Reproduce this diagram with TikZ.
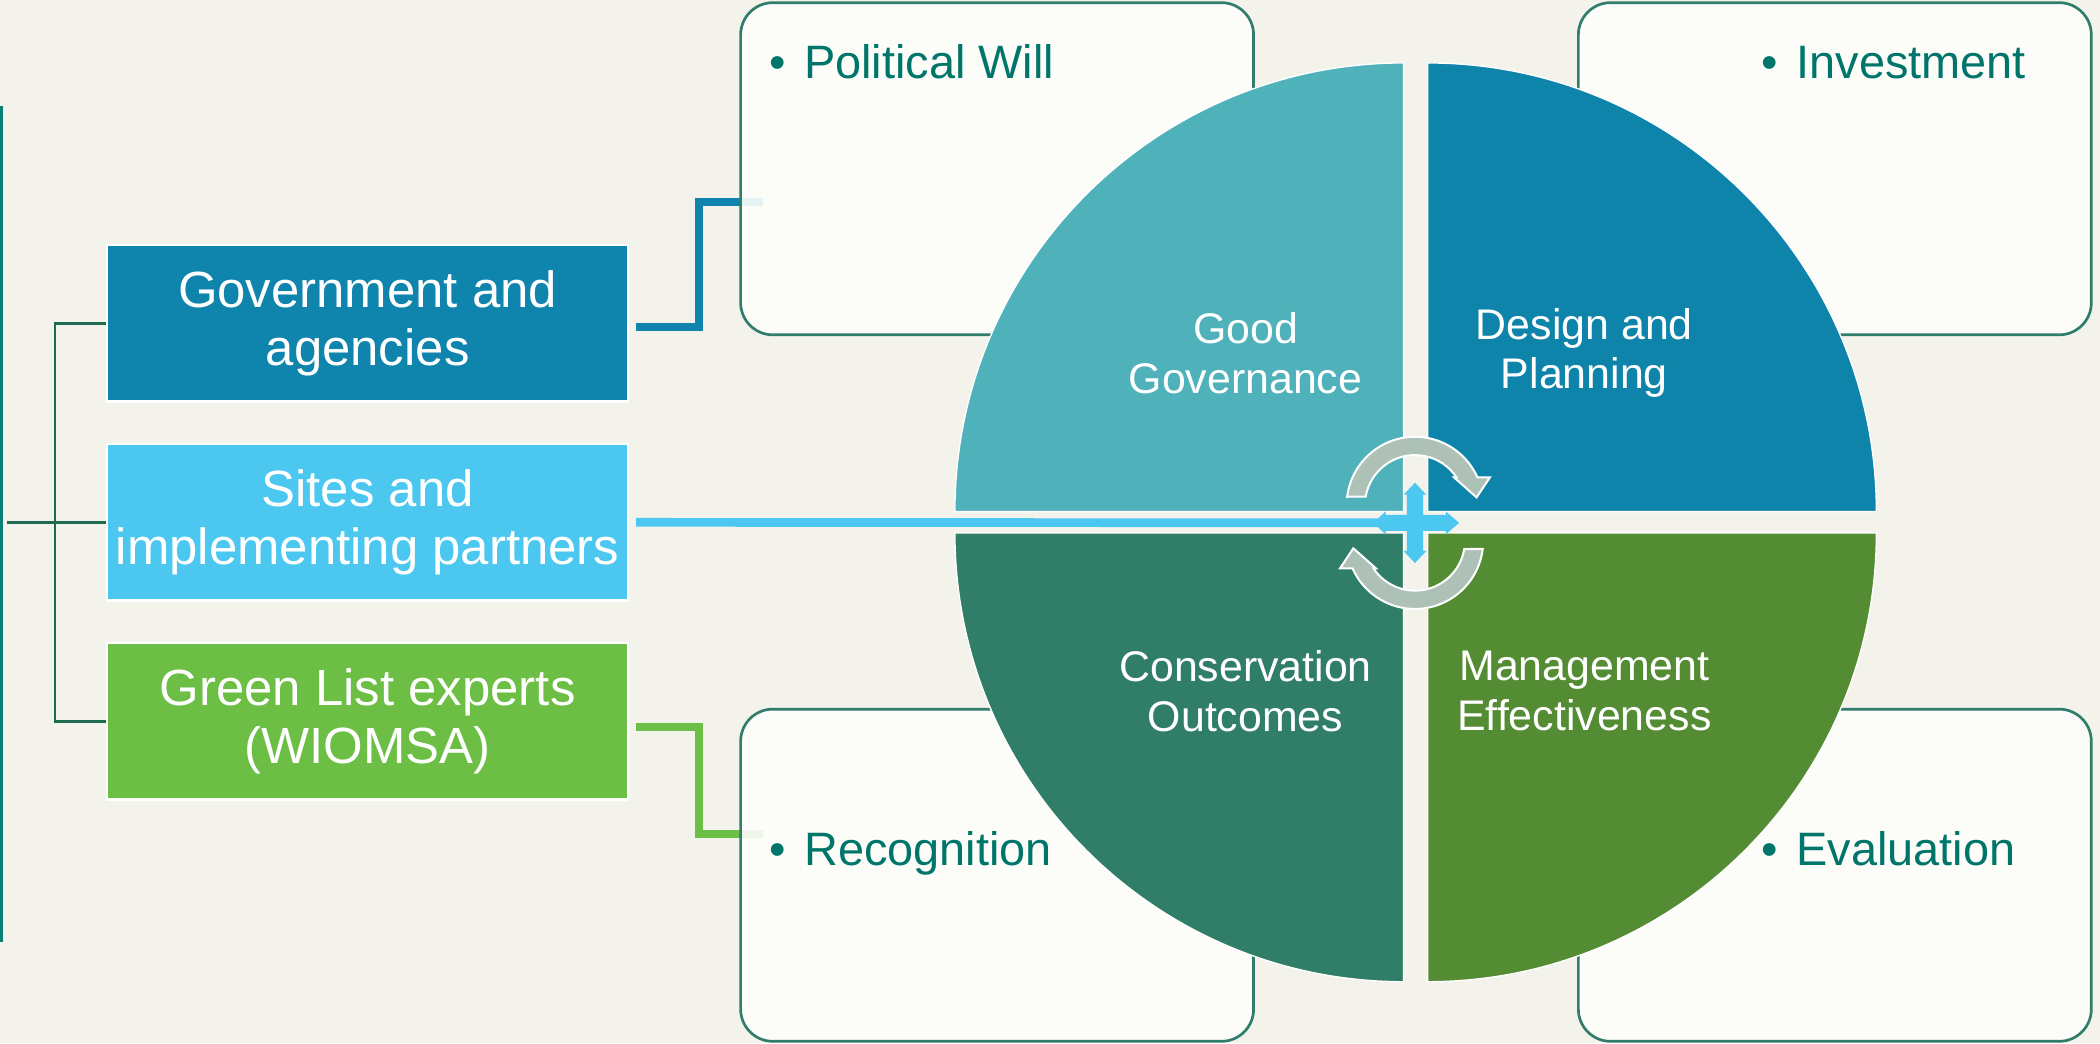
\documentclass[tikz,border=0pt]{standalone}
\usepackage{fontspec}
\setmainfont{Liberation Sans}
\definecolor{bgcream}{HTML}{F3F3EB}
\definecolor{tealline}{HTML}{0A8074}
\definecolor{bracket}{HTML}{1F6B52}
\definecolor{govblue}{HTML}{0F84AC}
\definecolor{siteblue}{HTML}{4CC8F0}
\definecolor{glgreen}{HTML}{6DBE45}
\definecolor{rborder}{HTML}{2F7D6A}
\definecolor{boxwhite}{HTML}{FDFDFB}
\definecolor{bultext}{HTML}{00756A}
\definecolor{qone}{HTML}{4FB1BA}
\definecolor{qtwo}{HTML}{0F84AA}
\definecolor{qthree}{HTML}{317E68}
\definecolor{qfour}{HTML}{548C33}
\definecolor{arrowgray}{HTML}{AEC1B7}
\begin{document}
\begin{tikzpicture}[x=1pt,y=-1pt,
  cbox/.style={draw=white, line width=2pt, minimum width=389pt, minimum height=117pt, text=white, align=center, font=\fontsize{38}{43}\selectfont, inner sep=0pt},
  rbox/.style={draw=rborder, line width=2pt, fill=boxwhite, fill opacity=0.9, rounded corners=24pt, minimum width=383pt, minimum height=248pt},
  bul/.style={text=bultext, font=\fontsize{35}{40}\selectfont, anchor=base west, inner sep=0pt},
  qtext/.style={text=white, align=center, font=\fontsize{32}{37}\selectfont, inner sep=0pt},
  conn/.style={line width=6pt},
  brk/.style={draw=bracket, line width=2pt},
  carrow/.style={fill=arrowgray, draw=white, line width=1.5pt},
  quad/.style={draw=white, line width=1pt},
]
\fill[bgcream] (0,0) rectangle (1568,779);
\useasboundingbox (0,0) rectangle (1568,779);

% left vertical line
\coordinate (lt) at (1,79);
\coordinate (lb) at (1,703);
\draw[tealline, line width=2pt] (lt) -- (lb);

% coloured boxes
\node[cbox, fill=govblue] (gov) at (274.5,241.5) {Government and\\agencies};
\node[cbox, fill=siteblue] (sites) at (274.5,390) {Sites and\\implementing partners};
\node[cbox, fill=glgreen] (gle) at (274.5,538.5) {Green List experts\\(WIOMSA)};

% bracket
\coordinate (brkstart) at (5,390);
\draw[brk] (gov.west) -- (41,241.5) -- (41,538.5) -- (gle.west);
\draw[brk] (brkstart) -- (sites.west);

% connectors
\coordinate (govend) at (570,151);
\coordinate (gleend) at (570,622.5);
\coordinate (hub) at (1056.5,390.4);
\draw[conn, govblue] (gov.east) ++(5,2.5) -- (522,244) |- (govend);
\draw[conn, glgreen] (gle.east) ++(5,4) -- (522,542.5) |- (gleend);

% rounded boxes
\node[rbox] (pwbox) at (744.5,126) {};
\node[rbox] (invbox) at (1370,126) {};
\node[rbox] (recbox) at (744.5,653.5) {};
\node[rbox] (evabox) at (1370,653.5) {};

\node[bul] (pw) at (574,58.5) {•\hspace{14pt}Political Will};
\node[bul] (inv) at (1315,58.5) {•\hspace{14pt}Investment};
\node[bul] (rec) at (574,646) {•\hspace{14pt}Recognition};
\node[bul] (eva) at (1315,646) {•\hspace{14pt}Evaluation};

% quadrants
\fill[qone, quad] (1048,382) -- (713,382) arc[start angle=180,end angle=270,radius=335] -- cycle;
\fill[qtwo, quad] (1066,382) -- (1066,47) arc[start angle=270,end angle=360,radius=335] -- cycle;
\fill[qfour, quad] (1066,398) -- (1401,398) arc[start angle=0,end angle=90,radius=335] -- cycle;
\fill[qthree, quad] (1048,398) -- (1048,733) arc[start angle=90,end angle=180,radius=335] -- cycle;

\node[qtext] (gg) at (930,263.5) {Good\\Governance};
\node[qtext] (dp) at (1183,263.5) {Design and\\Planning};
\node[qtext] (co) at (930,516) {Conservation\\Outcomes};
\node[qtext] (me) at (1183,516) {Management\\Effectiveness};

% sites line to hub
\draw[conn, siteblue, line width=6.5pt] (sites.east) ++(5,0) -- (hub);

% circular arrows
\begin{scope}[shift={(hub)}]
\path[carrow] (-50.6,-19.5) arc[start angle=187,end angle=336,radius=51] -- (56,-34) -- (46,-19) -- (29.1,-34) -- (31.0,-34) arc[start angle=326.3,end angle=189.6,radius=37.3] -- cycle;
\end{scope}
\begin{scope}[shift={(hub)}, rotate=180]
\path[carrow] (-50.6,-19.5) arc[start angle=187,end angle=336,radius=51] -- (56,-34) -- (46,-19) -- (29.1,-34) -- (31.0,-34) arc[start angle=326.3,end angle=189.6,radius=37.3] -- cycle;
\end{scope}

% four-way cross
\begin{scope}[shift={(hub)}]
\fill[siteblue] (0,-30) -- (8.5,-21) -- (6,-21) -- (6,-6) -- (23,-6) -- (23,-8.5) -- (33,0) -- (23,8.5) -- (23,6) -- (6,6) -- (6,21) -- (8.5,21) -- (0,30) -- (-8.5,21) -- (-6,21) -- (-6,6) -- (-22,6) -- (-22,8.5) -- (-31,0) -- (-22,-8.5) -- (-22,-6) -- (-6,-6) -- (-6,-21) -- (-8.5,-21) -- cycle;
\end{scope}
\end{tikzpicture}
\end{document}
